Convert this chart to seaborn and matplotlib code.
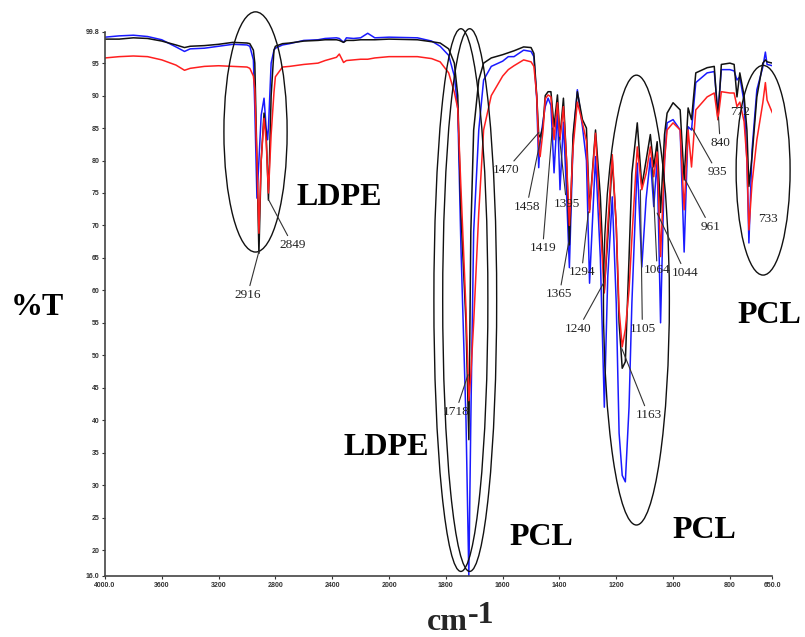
import numpy as np
import pandas as pd
import matplotlib
matplotlib.use("Agg")
import matplotlib.pyplot as plt
from matplotlib.patches import Ellipse
import seaborn as sns

# =====================================
# Spectrum data
# =====================================
wavenumber = [4000, 3900, 3800, 3700, 3600, 3500, 3440, 3400, 3300, 3200,
              3100, 3000, 2980, 2955, 2945, 2930, 2916, 2900, 2880, 2865,
              2855, 2849, 2830, 2810, 2800, 2750, 2700, 2600, 2500, 2450,
              2370, 2350, 2320, 2300, 2250, 2200, 2150, 2100, 2000, 1900,
              1850, 1820, 1790, 1770, 1758, 1747, 1729, 1719, 1712, 1702,
              1684, 1667, 1640, 1600, 1580, 1560, 1526, 1500, 1490, 1480,
              1473, 1468, 1458, 1450, 1440, 1430, 1419, 1407, 1398, 1386,
              1375, 1365, 1352, 1337, 1319, 1305, 1294, 1273, 1256, 1242,
              1230, 1214, 1200, 1190, 1179, 1168, 1155, 1145, 1126, 1110,
              1095, 1080, 1068, 1056, 1044, 1030, 1021, 1000, 975, 961,
              947, 935, 920, 880, 855, 842, 830, 800, 785, 775,
              765, 750, 740, 733, 722, 705, 684, 675, 669, 650]

t_black = [98.7, 98.7, 98.9, 98.8, 98.4, 97.8, 97.4, 97.6, 97.7, 97.9,
           98.2, 98.1, 98.0, 97.0, 95.0, 80.0, 65.7, 80.0, 87.3, 84.0,
           78.0, 73.9, 90.0, 97.0, 97.6, 98.0, 98.1, 98.4, 98.5, 98.6,
           98.6, 98.5, 98.2, 98.5, 98.5, 98.6, 98.6, 98.6, 98.7, 98.6,
           98.3, 98.1, 97.2, 95.0, 90.0, 72.0, 55.0, 37.0, 69.0, 84.7,
           92.4, 95.0, 95.8, 96.3, 96.6, 96.9, 97.5, 97.4, 96.5, 90.0,
           84.0, 83.6, 85.2, 90.0, 90.6, 90.6, 85.2, 90.1, 83.6, 89.6,
           80.0, 67.0, 84.0, 90.6, 86.3, 85.0, 72.4, 84.7, 74.4, 60.0,
           68.0, 80.1, 70.0, 55.0, 48.0, 49.0, 65.0, 78.0, 85.8, 76.0,
           80.0, 84.0, 79.0, 82.9, 72.0, 84.0, 87.3, 88.9, 87.8, 77.0,
           88.1, 86.3, 93.5, 94.3, 94.5, 86.3, 94.8, 95.0, 94.8, 89.8,
           93.5, 90.0, 84.7, 76.0, 80.6, 89.8, 95.0, 95.5, 95.2, 95.0]

t_blue = [99.0, 99.2, 99.3, 99.1, 98.6, 97.5, 96.8, 97.2, 97.3, 97.6,
          97.9, 97.8, 97.6, 95.5, 88.0, 74.2, 80.0, 87.0, 89.6, 85.0,
          83.2, 85.0, 95.0, 97.0, 97.3, 97.8, 98.0, 98.5, 98.6, 98.8,
          98.9, 98.8, 98.2, 98.9, 98.8, 98.9, 99.6, 98.9, 99.0, 98.9,
          98.4, 97.6, 96.2, 93.0, 88.0, 67.0, 40.0, 16.0, 40.0, 69.0,
          84.7, 92.4, 94.5, 95.3, 96.0, 96.0, 97.0, 96.8, 96.0, 89.5,
          78.9, 83.0, 86.0, 88.3, 89.6, 88.5, 78.1, 87.8, 75.5, 85.9,
          75.0, 63.5, 83.0, 90.9, 85.2, 80.0, 61.1, 80.6, 65.0, 42.0,
          62.0, 74.4, 58.0, 38.0, 31.5, 30.5, 42.0, 58.0, 79.6, 63.6,
          74.0, 80.4, 72.9, 80.1, 55.0, 80.0, 85.8, 86.3, 84.7, 65.9,
          85.2, 84.7, 92.0, 93.5, 93.7, 87.3, 94.0, 94.0, 93.8, 92.4,
          92.9, 89.0, 80.0, 67.3, 81.6, 90.9, 94.4, 96.7, 94.8, 94.6]

t_red = [95.8, 96.0, 96.1, 96.0, 95.5, 94.7, 93.9, 94.2, 94.5, 94.6,
         94.5, 94.4, 94.2, 93.0, 91.0, 80.0, 68.8, 80.0, 86.5, 83.0,
         78.0, 75.0, 84.0, 90.5, 92.9, 94.4, 94.5, 94.8, 95.0, 95.4,
         95.9, 96.4, 95.1, 95.4, 95.5, 95.6, 95.6, 95.8, 96.0, 96.0,
         95.7, 95.2, 93.5, 90.5, 88.0, 76.0, 57.0, 43.0, 47.0, 55.0,
         72.0, 84.7, 90.0, 93.0, 94.0, 94.6, 95.5, 95.2, 94.5, 90.0,
         82.0, 80.6, 84.5, 89.5, 90.1, 89.8, 83.2, 88.9, 83.2, 88.3,
         80.0, 70.0, 82.0, 89.0, 85.8, 83.0, 72.0, 84.2, 70.0, 59.6,
         70.0, 80.9, 70.0, 57.0, 51.3, 54.0, 60.0, 68.0, 82.1, 75.5,
         78.0, 82.1, 77.5, 81.3, 65.2, 80.0, 84.7, 85.8, 84.7, 72.4,
         84.7, 79.0, 87.8, 89.8, 90.4, 86.3, 90.6, 90.4, 90.4, 88.3,
         89.0, 86.0, 80.0, 69.3, 76.5, 83.2, 88.9, 92.0, 89.3, 87.3]

trace_names = ["blue", "black", "red"]   # drawing order
trace_colors = {"black": "#111111", "blue": "#1a1aff", "red": "#ff1f1f"}

x_ticks = [4000, 3600, 3200, 2800, 2400, 2000, 1800, 1600, 1400, 1200, 1000, 800, 650]
x_tick_labels = ["4000.0", "3600", "3200", "2800", "2400", "2000", "1800",
                 "1600", "1400", "1200", "1000", "800", "650.0"]
y_ticks = [99.8, 95, 90, 85, 80, 75, 70, 65, 60, 55, 50, 45, 40, 35, 30, 25, 20, 16]
y_tick_labels = ["99.8", "95", "90", "85", "80", "75", "70", "65", "60", "55",
                 "50", "45", "40", "35", "30", "25", "20", "16.0"]

# long table for seaborn
df = pd.concat([
    pd.DataFrame({"wavenumber": wavenumber, "T": t_black, "trace": "black"}),
    pd.DataFrame({"wavenumber": wavenumber, "T": t_blue, "trace": "blue"}),
    pd.DataFrame({"wavenumber": wavenumber, "T": t_red, "trace": "red"}),
], ignore_index=True)

# =====================================
# Figure
# =====================================
sns.set_style("ticks")
plt.rcParams["font.family"] = ["Liberation Serif", "DejaVu Serif"]

fig = plt.figure(figsize=(8.05, 6.37), dpi=100)
ax = fig.add_axes([0.1304, 0.0958, 0.8292, 0.854])

sns.lineplot(data=df, x="wavenumber", y="T", hue="trace", hue_order=trace_names,
             palette=trace_colors, estimator=None, sort=False, legend=False,
             linewidth=1.1, ax=ax)


# instrument axis: 2x expanded below 2000 cm-1
def fwd(x):
    x = np.asarray(x, dtype=float)
    return np.where(x > 2000, 2000 + (x - 2000) / 2.0, x)


def inv(u):
    u = np.asarray(u, dtype=float)
    return np.where(u > 2000, 2000 + (u - 2000) * 2.0, u)


ax.set_xscale("function", functions=(fwd, inv))
ax.set_xlim(4000, 650)
ax.set_ylim(16, 99.8)
ax.set_xticks(x_ticks)
ax.set_xticklabels(x_tick_labels)
ax.set_yticks(y_ticks)
ax.set_yticklabels(y_tick_labels)
ax.minorticks_off()
ax.set_xlabel("")
ax.set_ylabel("")
ax.tick_params(axis="both", length=2.5, width=0.8, pad=1.5, labelsize=5,
               colors="#333333", direction="out")
for lab in ax.get_xticklabels() + ax.get_yticklabels():
    lab.set_family("Liberation Sans")
    lab.set_fontweight("bold")
sns.despine(ax=ax)
for side in ["left", "bottom"]:
    ax.spines[side].set_linewidth(1.2)
    ax.spines[side].set_color("#444444")

# circled bands
ellipses = [
    ((2940, 84.4), 445, 37.0),
    ((1747, 58.5), 190, 83.6),
    ((1716, 58.5), 190, 83.6),
    ((1129, 58.5), 232, 69.3),
    ((683, 78.5), 190, 32.3),
]
for center, w, h in ellipses:
    ax.add_patch(Ellipse(center, w, h, fill=False, edgecolor="#111111",
                         lw=1.0, clip_on=False, zorder=4))

# peak labels
peaks = [
    ("2916", (2916, 66.0), (2997, 59.3)),
    ("2849", (2849, 74.0), (2679, 67.0)),
    ("1718", (1722, 47.0), (1765, 41.3)),
    ("1470", (1473, 84.3), (1589, 78.5)),
    ("1458", (1463, 84.0), (1515, 72.9)),
    ("1419", (1425, 85.0), (1459, 66.5)),
    ("1395", (1400, 83.6), (1375, 73.3)),
    ("1365", (1368, 67.3), (1400, 59.4)),
    ("1294", (1298, 72.1), (1322, 62.8)),
    ("1240", (1245, 61.1), (1333, 54.1)),
    ("1163", (1180, 51.0), (1087, 40.8)),
    ("1105", (1115, 75.5), (1108, 54.1)),
    ("1064", (1073, 78.9), (1056, 63.1)),
    ("1044", (1056, 71.9), (957, 62.7)),
    ("961", (957, 77.0), (869, 69.8)),
    ("935", (933, 85.0), (845, 78.2)),
    ("840", (840, 86.7), (834, 82.7)),
]
for text, xy, xytext in peaks:
    ax.annotate(text, xy=xy, xytext=xytext, xycoords="data", textcoords="data",
                ha="center", va="center", fontsize=9.5, color="#222222",
                arrowprops=dict(arrowstyle="-", color="#333333", lw=0.8,
                                shrinkA=0, shrinkB=0), zorder=5)
for text, pos in [("772", (764, 87.5)), ("733", (666, 71.0))]:
    ax.text(pos[0], pos[1], text, ha="center", va="center", fontsize=9.5,
            color="#222222", zorder=5)

# big labels (figure pixels -> fraction)
W, H = 805, 637
big = dict(fontsize=23, fontweight="bold", color="black", ha="center", va="baseline")
fig.text(37 / W, 1 - 315 / H, "%T", **big)
fig.text(339 / W, 1 - 205 / H, "LDPE", **big)
fig.text(386 / W, 1 - 455 / H, "LDPE", **big)
fig.text(541 / W, 1 - 545 / H, "PCL", **big)
fig.text(704 / W, 1 - 538 / H, "PCL", **big)
fig.text(769 / W, 1 - 323 / H, "PCL", **big)
fig.text(427 / W, 1 - 630 / H, "cm", fontsize=23, fontweight="bold", ha="left", va="baseline")
fig.text(468 / W, 1 - 623 / H, "-1", fontsize=23, fontweight="bold", ha="left", va="baseline")

fig.savefig("out.png", dpi=100)
print("saved out.png")
